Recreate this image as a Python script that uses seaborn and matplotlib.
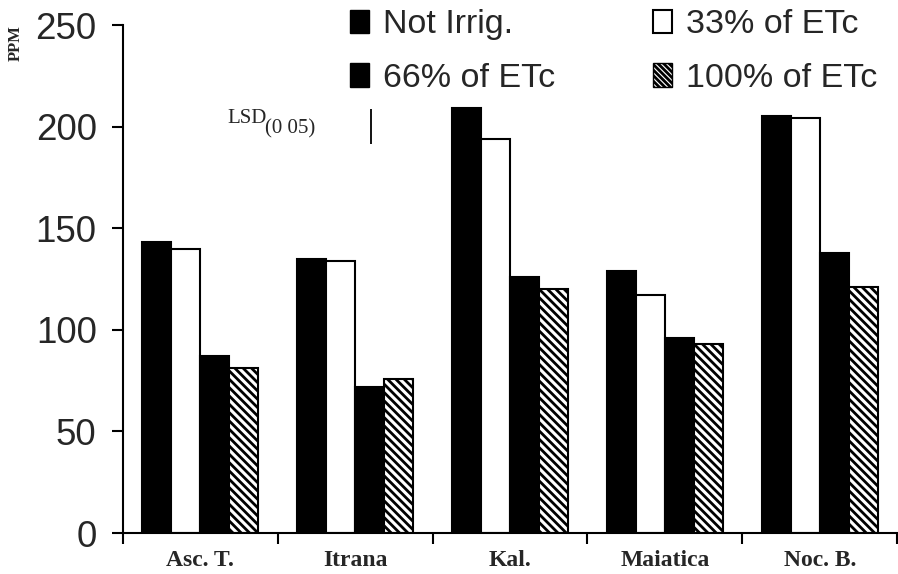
import matplotlib
matplotlib.use("Agg")
import matplotlib.pyplot as plt
import matplotlib.patches as mpatches
import seaborn as sns
import pandas as pd
import numpy as np

cultivars = ["Asc. T.", "Itrana", "Kal.", "Maiatica", "Noc. B."]
treatments = ["Not Irrig.", "33% of ETc", "66% of ETc", "100% of ETc"]
not_irrig = [143, 135, 209, 129, 205]
etc33 = [140, 134, 194, 117, 204]
etc66 = [87, 72, 126, 96, 138]
etc100 = [81, 76, 120, 93, 121]
yticks = [0, 50, 100, 150, 200, 250]
lsd_value = 17

df = pd.DataFrame({
    "cultivar": cultivars * 4,
    "treatment": sum([[t] * len(cultivars) for t in treatments], []),
    "ppm": not_irrig + etc33 + etc66 + etc100,
})

sns.set_style("white")
plt.rcParams["font.family"] = ["Liberation Sans", "DejaVu Sans"]
plt.rcParams["hatch.linewidth"] = 2.0

fig = plt.figure(figsize=(8.98, 5.74), dpi=100)
ax = fig.add_axes([0.137, 0.0714, 0.862, 0.885])

palette = {"Not Irrig.": "black", "33% of ETc": "white",
           "66% of ETc": "black", "100% of ETc": "white"}
sns.barplot(data=df, x="cultivar", y="ppm", hue="treatment", order=cultivars,
            hue_order=treatments, palette=palette, width=0.75, gap=0,
            edgecolor="black", linewidth=1.5, saturation=1, ax=ax, legend=False,
            errorbar=None)

for bar in ax.containers[3]:
    bar.set_hatch("\\\\\\\\")
    bar.set_edgecolor("black")
    try:
        bar.set_hatch_linewidth(2.0)
    except AttributeError:
        pass

ax.set_ylim(0, 250)
ax.set_xlim(-0.5, 4.5)
ax.set_yticks(yticks)
ax.set_yticklabels([str(v) for v in yticks], fontsize=26.5)
ax.tick_params(axis="y", direction="out", length=8, width=1.5, pad=11, left=True, color="black")
ax.set_xticks(range(len(cultivars)))
ax.set_xticklabels(cultivars, fontsize=17, fontweight="bold", family="Liberation Serif")
ax.tick_params(axis="x", which="major", length=0, pad=12)
ax.set_xticks(np.arange(-0.5, 5, 1.0), minor=True)
ax.tick_params(axis="x", which="minor", direction="out", length=8, width=1.5, bottom=True, color="black")
ax.set_xlabel("")
ax.set_ylabel("")
for s in ["top", "right"]:
    ax.spines[s].set_visible(False)
for s in ["left", "bottom"]:
    ax.spines[s].set_color("black")
    ax.spines[s].set_linewidth(1.5)

fig.text(0.017, 0.925, "PPM", rotation=90, fontsize=12, fontweight="bold",
         family="Liberation Serif", ha="center", va="center")

# LSD annotation
fig.text(227 / 898, 1 - 123 / 574, "LSD", fontsize=15,
         family="Liberation Serif", ha="left", va="baseline")
fig.text(265 / 898, 1 - 133 / 574, "(0 05)", fontsize=15,
         family="Liberation Serif", ha="left", va="baseline")
ax.vlines(1.10, 200 - lsd_value / 2, 200 + lsd_value / 2, color="black", linewidth=1.3)

handles = [
    mpatches.Patch(facecolor="black", edgecolor="black", label="Not Irrig."),
    mpatches.Patch(facecolor="black", edgecolor="black", label="66% of ETc"),
    mpatches.Patch(facecolor="white", edgecolor="black", linewidth=1.5, label="33% of ETc"),
    mpatches.Patch(facecolor="white", edgecolor="black", hatch="\\\\\\\\\\\\", label="100% of ETc"),
]
fig.legend(handles=handles, ncol=2, loc="upper left", bbox_to_anchor=(0.3635, 1.025),
           frameon=False, fontsize=24.5, handlelength=0.55, handleheight=0.7,
           handletextpad=0.4, columnspacing=2.9, labelspacing=0.67, borderpad=0.2)

fig.savefig("out.png", dpi=100)
